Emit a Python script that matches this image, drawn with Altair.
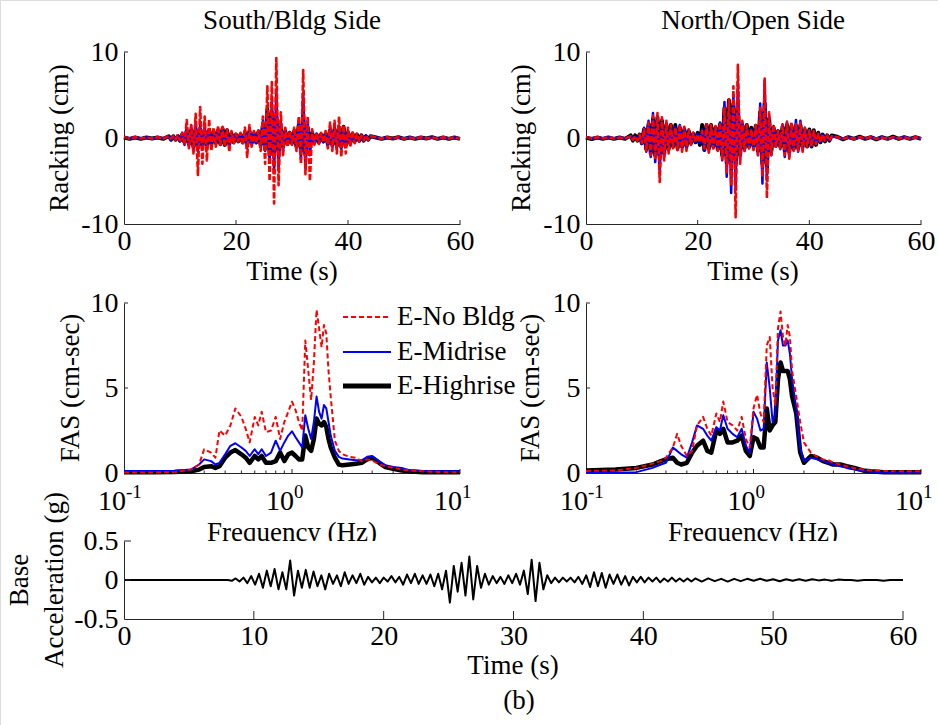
import altair as alt
import pandas as pd

FONT = "Liberation Serif"
W, H = 938, 725
BLACK, BLUE, RED = "#000000", "#0000ff", "#ff0000"
AXIS_GREY = "#262626"
LBL = 28      # tick label size
TTL = 27      # title size

# ---------------- racking time histories (cm) ----------------
RACK_T = [0, 1, 2, 3, 4, 5, 6, 7] + [round(8 + 0.4 * i, 1) for i in range(91)] + list(range(45, 61))

SOUTH_NO_BLDG = (
    [0.1, -0.05, 0.1, -0.05, 0.08, -0.05, 0.1, -0.05]
    + [0.2, -0.1, 0.2, -0.2, 0.3,
       -0.3, 0.6, -0.8, 2.1, -1.2,
       1.5, -1.8, 2.8, -4.3, 3.6,
       -3.0, 2.5, -2.6, 2.2, -1.5,
       1.2, -1.0, 1.4, -0.8, 1.3,
       -1.0, 1.0, -1.6, 0.8, -0.6,
       0.5, -0.4, 0.6, -0.8, 1.2,
       -2.2, 1.5, -1.0, 0.8, -0.6,
       0.9, -1.5, 2.5, -3.0, 6.0,
       -5.0, 6.5, -7.6, 9.3, -5.5,
       3.0, -2.0, 1.2, -1.0, 0.8,
       -0.8, 1.2, -1.5, 2.5, -3.0,
       7.9, -4.2, 2.5, -5.0, 1.0,
       -0.8, 0.6, -0.7, 0.6, -0.5,
       0.8, -1.2, 1.8, -1.5, 2.0,
       -1.8, 2.5, -2.2, 1.5, -1.8,
       1.2, -1.0, 0.8, -0.6, 0.5,
       -0.4, 0.3, -0.3, 0.3, -0.2, 0.2]
    + [0.1, -0.08, 0.1, -0.05, 0.1, -0.08, 0.05, -0.1, 0.1, -0.05, 0.1, -0.08, 0.1, -0.05, 0.1, -0.05]
)
SOUTH_MIDRISE = (
    [0.08, -0.05, 0.08, -0.05, 0.05, -0.05, 0.08, -0.05]
    + [0.2, -0.2, 0.2, -0.2, 0.3,
       -0.4, 0.6, -0.8, 1.2, -1.0,
       1.4, -1.5, 1.8, -1.6, 1.5,
       -1.2, 1.4, -1.0, 1.0, -0.8,
       0.8, -0.6, 1.0, -0.8, 1.0,
       -0.8, 0.8, -0.9, 0.6, -0.5,
       0.4, -0.4, 0.5, -0.6, 0.9,
       -1.2, 1.0, -0.8, 0.7, -0.6,
       0.8, -1.0, 2.0, -1.5, 3.2,
       -2.5, 4.5, -4.0, 5.5, -3.5,
       2.0, -1.5, 1.0, -0.8, 0.7,
       -0.7, 1.0, -1.2, 2.0, -2.5,
       5.3, -3.5, 2.0, -2.0, 0.8,
       -0.6, 0.5, -0.6, 0.5, -0.5,
       0.6, -0.9, 1.2, -1.0, 1.3,
       -1.2, 1.4, -1.3, 1.0, -1.0,
       0.9, -0.8, 0.6, -0.5, 0.4,
       -0.4, 0.3, -0.3, 0.3, -0.2, 0.2]
    + [0.08, -0.05, 0.08, -0.08, 0.05, -0.05, 0.08, -0.05, 0.08, -0.05, 0.05, -0.08, 0.08, -0.05, 0.05, -0.05]
)
SOUTH_HIGHRISE = (
    [0.05, -0.1, 0.05, -0.1, 0.05, -0.05, 0.05, -0.1]
    + [0.2, -0.2, 0.2, -0.2, 0.2,
       -0.3, 0.4, -0.5, 0.8, -0.7,
       0.9, -1.0, 1.0, -1.1, 1.0,
       -0.9, 0.8, -0.8, 0.9, -0.7,
       0.7, -0.6, 0.9, -0.7, 1.1,
       -0.8, 0.9, -0.7, 0.5, -0.5,
       0.4, -0.4, 0.4, -0.5, 0.6,
       -0.7, 0.8, -0.6, 0.5, -0.5,
       0.7, -0.8, 1.5, -1.2, 3.3,
       -2.0, 3.0, -2.2, 2.5, -1.5,
       1.2, -1.0, 0.8, -0.7, 0.6,
       -0.6, 0.8, -1.0, 1.5, -1.5,
       2.5, -2.0, 1.2, -1.0, 0.6,
       -0.5, 0.4, -0.5, 0.4, -0.4,
       0.5, -0.7, 0.9, -0.8, 1.0,
       -0.9, 1.2, -1.0, 1.3, -0.8,
       0.6, -0.6, 0.5, -0.4, 0.4,
       -0.3, 0.3, -0.3, 0.2, -0.2, 0.2]
    + [0.05, -0.1, 0.05, -0.05, 0.1, -0.1, 0.05, -0.1, 0.05, -0.05, 0.1, -0.1, 0.05, -0.1, 0.05, -0.1]
)
NORTH_NO_BLDG = (
    [0.1, -0.05, 0.1, -0.05, 0.1, -0.05, 0.05, -0.05]
    + [0.2, -0.2, 0.2, -0.3, 0.4,
       -0.6, 1.0, -1.5, 1.8, -2.0,
       2.6, -2.5, 2.9, -5.1, 2.4,
       -2.6, 2.0, -1.8, 1.5, -1.2,
       1.2, -1.4, 1.6, -1.6, 1.3,
       -1.5, 1.0, -0.8, 0.6, -0.5,
       0.4, -0.5, 0.8, -1.2, 1.6,
       -1.7, 1.5, -1.2, 1.4, -1.5,
       1.8, -2.5, 3.5, -4.0, 4.5,
       -5.5, 6.0, -9.2, 8.5, -3.0,
       2.0, -1.5, 1.5, -1.2, 1.0,
       -1.4, 1.5, -2.0, 3.5, -4.5,
       6.9, -7.0, 3.0, -2.0, 1.5,
       -1.0, 0.8, -1.2, 1.5, -2.0,
       1.9, -2.4, 1.8, -1.5, 1.6,
       -1.5, 1.8, -1.6, 1.2, -1.0,
       0.9, -1.0, 0.8, -0.7, 0.5,
       -0.5, 0.4, -0.3, 0.3, -0.3, 0.2]
    + [0.1, -0.1, 0.1, -0.1, 0.1, -0.05, 0.1, -0.1, 0.05, -0.1, 0.1, -0.05, 0.1, -0.1, 0.1, -0.05]
)
NORTH_MIDRISE = (
    [0.08, -0.05, 0.08, -0.05, 0.08, -0.05, 0.05, -0.05]
    + [0.2, -0.2, 0.2, -0.3, 0.4,
       -0.7, 1.2, -1.6, 2.0, -2.2,
       2.9, -2.8, 2.5, -4.1, 2.2,
       -2.2, 1.8, -1.5, 1.4, -1.0,
       1.3, -1.4, 1.5, -1.3, 1.2,
       -1.2, 0.9, -0.7, 0.6, -0.5,
       0.5, -0.6, 1.0, -1.4, 1.6,
       -1.6, 1.4, -1.2, 1.3, -1.4,
       1.8, -2.6, 4.2, -4.5, 4.4,
       -6.4, 5.0, -6.0, 6.5, -2.5,
       1.8, -1.5, 1.4, -1.2, 1.0,
       -1.3, 1.5, -2.0, 4.0, -5.3,
       6.7, -5.0, 2.5, -2.0, 1.4,
       -1.0, 0.8, -1.3, 1.6, -2.2,
       1.8, -2.2, 1.6, -1.4, 2.1,
       -1.6, 2.0, -1.4, 1.2, -1.0,
       0.9, -1.0, 0.8, -0.7, 0.5,
       -0.5, 0.4, -0.3, 0.3, -0.3, 0.2]
    + [0.08, -0.08, 0.05, -0.08, 0.08, -0.05, 0.08, -0.05, 0.08, -0.08, 0.05, -0.05, 0.08, -0.05, 0.05, -0.05]
)
NORTH_HIGHRISE = (
    [0.05, -0.12, 0.05, -0.1, 0.05, -0.1, 0.05, -0.1]
    + [0.3, -0.3, 0.3, -0.3, 0.4,
       -0.6, 1.0, -1.3, 1.6, -1.8,
       2.2, -2.0, 2.4, -2.2, 2.0,
       -1.8, 1.5, -1.3, 1.5, -1.0,
       1.5, -1.2, 1.2, -1.0, 1.0,
       -1.0, 0.8, -0.6, 0.5, -0.5,
       0.6, -0.8, 1.5, -1.4, 1.5,
       -1.2, 1.5, -1.0, 1.2, -1.3,
       1.6, -2.0, 3.5, -2.9, 4.4,
       -2.5, 4.0, -3.0, 3.5, -2.0,
       1.5, -1.2, 1.5, -1.0, 1.2,
       -1.0, 1.4, -1.5, 3.0, -3.0,
       4.0, -3.5, 2.2, -1.5, 1.2,
       -0.9, 0.8, -1.0, 1.3, -1.5,
       1.5, -1.6, 1.4, -1.3, 1.4,
       -1.2, 1.5, -1.0, 0.9, -1.0,
       1.0, -1.0, 0.9, -0.8, 0.6,
       -0.5, 0.4, -0.4, 0.3, -0.3, 0.3]
    + [0.15, -0.15, 0.1, -0.1, 0.15, -0.1, 0.1, -0.15, 0.1, -0.1, 0.15, -0.1, 0.1, -0.1, 0.1, -0.1]
)

# ---------------- Fourier amplitude spectra (cm-sec) ----------------
FREQ = [0.1, 0.15, 0.2, 0.25, 0.28, 0.3, 0.33, 0.35, 0.37, 0.4,
        0.43, 0.46, 0.5, 0.53, 0.56, 0.6, 0.63, 0.66, 0.7, 0.75,
        0.8, 0.85, 0.9, 0.95, 1.0, 1.05, 1.1, 1.15, 1.2, 1.25,
        1.3, 1.35, 1.4, 1.45, 1.5, 1.55, 1.6, 1.65, 1.7, 1.8,
        1.9, 2.0, 2.2, 2.4, 2.6, 2.8, 3.0, 3.3, 3.6, 4.0,
        4.5, 5.0, 6.0, 7.0, 8.5, 10.0]

FAS_SOUTH_NO_BLDG = [0.03, 0.03, 0.05, 0.2, 0.5, 1.4, 1.2, 0.9, 2.5, 2.2,
                     2.8, 3.8, 3.3, 2.6, 1.8, 3.3, 2.8, 3.6, 2.4, 2.5,
                     3.3, 2.0, 3.0, 3.6, 4.2, 3.7, 3.0, 2.5, 7.8, 6.0,
                     4.3, 6.5, 9.6, 8.5, 7.4, 8.7, 8.2, 6.0, 4.5, 1.9,
                     1.3, 1.1, 0.95, 0.9, 0.7, 0.8, 0.75, 0.5, 0.4, 0.3,
                     0.2, 0.15, 0.1, 0.07, 0.05, 0.05]
FAS_SOUTH_MIDRISE = [0.12, 0.12, 0.13, 0.2, 0.5, 0.8, 0.7, 0.5, 0.6, 1.1,
                     1.6, 1.75, 1.5, 1.3, 1.0, 1.4, 1.1, 1.4, 1.0, 1.2,
                     1.9, 1.3, 1.8, 2.2, 2.45, 2.1, 1.8, 1.5, 3.4, 2.6,
                     2.0, 3.0, 4.5, 3.6, 3.2, 4.0, 3.8, 3.0, 2.2, 1.3,
                     0.95, 0.85, 0.8, 0.75, 0.75, 0.95, 1.0, 0.7, 0.45, 0.35,
                     0.3, 0.15, 0.12, 0.1, 0.1, 0.1]
FAS_SOUTH_HIGHRISE = [0.05, 0.05, 0.06, 0.1, 0.2, 0.35, 0.4, 0.3, 0.4, 0.9,
                      1.2, 1.35, 1.1, 0.9, 0.6, 1.0, 0.8, 1.0, 0.6, 0.6,
                      0.7, 1.2, 0.7, 1.1, 1.2, 1.0, 0.8, 0.8, 2.2, 1.5,
                      1.3, 2.0, 3.2, 2.9, 2.8, 3.0, 2.7, 2.0, 1.5, 0.9,
                      0.5, 0.45, 0.5, 0.55, 0.6, 0.8, 0.9, 0.6, 0.35, 0.25,
                      0.15, 0.1, 0.05, 0.05, 0.05, 0.05]
FAS_NORTH_NO_BLDG = [0.12, 0.15, 0.3, 0.55, 0.7, 0.9, 1.5, 2.3, 1.6, 1.0,
                     1.3, 2.8, 3.3, 2.6, 2.2, 3.5, 3.0, 4.2, 3.0, 2.8,
                     2.5, 3.3, 2.0, 1.5, 3.8, 4.6, 3.5, 3.0, 7.5, 8.0,
                     5.0, 4.0, 8.5, 9.5, 8.0, 7.5, 8.7, 8.0, 6.0, 4.5,
                     3.0, 1.8, 1.2, 0.95, 0.8, 0.75, 0.6, 0.5, 0.4, 0.3,
                     0.2, 0.15, 0.12, 0.1, 0.1, 0.1]
FAS_NORTH_MIDRISE = [0.02, 0.02, 0.05, 0.3, 0.5, 0.6, 1.5, 1.3, 1.1, 0.9,
                     1.8, 2.8, 2.6, 2.2, 1.9, 2.7, 2.5, 3.4, 2.6, 2.3,
                     2.1, 2.6, 1.6, 1.2, 3.6, 3.2, 2.5, 2.6, 6.5, 5.0,
                     3.0, 3.5, 7.8, 8.4, 7.5, 7.5, 7.8, 7.0, 5.5, 3.8,
                     1.5, 0.7, 0.9, 0.8, 0.7, 0.6, 0.5, 0.4, 0.3, 0.2,
                     0.12, 0.08, 0.03, 0.02, 0.02, 0.02]
FAS_NORTH_HIGHRISE = [0.15, 0.2, 0.3, 0.5, 0.7, 0.8, 0.9, 0.6, 0.5, 0.6,
                      1.2, 1.6, 1.9, 1.3, 1.2, 2.5, 2.3, 2.6, 1.8, 1.8,
                      1.9, 2.2, 1.3, 1.0, 2.1, 2.0, 1.5, 1.5, 3.8, 2.5,
                      2.8, 3.0, 5.5, 6.5, 6.0, 6.0, 6.0, 5.5, 4.5, 3.5,
                      1.2, 0.6, 1.0, 0.9, 0.7, 0.6, 0.5, 0.5, 0.4, 0.3,
                      0.15, 0.1, 0.05, 0.05, 0.05, 0.05]

# ---------------- base acceleration (g) ----------------
BASE_T = [0, 7.9] + [round(8 + 0.3 * j, 1) for j in range(121)] + [44.5 + 0.5 * k for k in range(32)]
BASE_ACC = (
    [0.0, 0.0]
    + [0.0, -0.01, 0.02, -0.02, 0.03, -0.04, 0.05, -0.06, 0.08, -0.1,
       0.12, -0.08, 0.14, -0.12, 0.1, -0.12, 0.25, -0.2, 0.12, -0.1,
       0.13, -0.1, 0.11, -0.08, 0.06, -0.12, 0.08, -0.05, 0.06, -0.08,
       0.1, -0.05, 0.06, -0.04, 0.08, -0.06, 0.04, -0.03, 0.03, -0.04,
       0.03, -0.02, 0.05, -0.03, 0.04, -0.06, 0.07, -0.04, 0.08, -0.05,
       0.06, -0.05, 0.07, -0.08, 0.08, -0.12, 0.12, -0.29, 0.18, -0.15,
       0.22, -0.2, 0.3, -0.25, 0.18, -0.1, 0.08, -0.06, 0.05, -0.04,
       0.04, -0.05, 0.06, -0.04, 0.08, -0.06, 0.12, -0.18, 0.26, -0.27,
       0.22, -0.12, 0.06, -0.04, 0.03, -0.03, 0.03, -0.02, 0.03, -0.03,
       0.04, -0.05, 0.06, -0.09, 0.1, -0.08, 0.09, -0.1, 0.07, -0.05,
       0.07, -0.06, 0.05, -0.07, 0.04, -0.03, 0.04, -0.03, 0.03, -0.02,
       0.03, -0.03, 0.02, -0.02, 0.03, -0.02, 0.02, -0.02, 0.02, -0.02, 0.02]
    + [-0.02, 0.02, -0.015, 0.015, -0.02, 0.015, -0.015, 0.015, -0.01, 0.015,
       -0.01, 0.01, -0.015, 0.01, -0.01, 0.01, -0.01, 0.01, -0.005, 0.005,
       -0.01, 0.005, 0.0, 0.0, -0.01, 0.0, 0.0, 0.0, -0.01, 0.0,
       0.0, 0.0]
)

SERIES_NAMES = ["E-No Bldg", "E-Midrise", "E-Highrise"]

# ---------------- panel geometry (pixel ranges of each axes box) ----------------
PANELS = {
    "south": {"x": ([0, 60], [124, 460]), "y": ([-10, 10], [224, 52]), "log": False},
    "north": {"x": ([0, 60], [586, 921]), "y": ([-10, 10], [224, 52]), "log": False},
    "fas_s": {"x": ([0.1, 10], [124, 460]), "y": ([0, 10], [473, 303]), "log": True},
    "fas_n": {"x": ([0.1, 10], [586, 921]), "y": ([0, 10], [473, 303]), "log": True},
    "base": {"x": ([0, 60], [124, 903]), "y": ([-0.5, 0.5], [619, 541]), "log": False},
}


def sx(p):
    d, r = PANELS[p]["x"]
    if PANELS[p]["log"]:
        return alt.Scale(type="log", domain=d, range=r, nice=False)
    return alt.Scale(domain=d, range=r, nice=False, zero=False)


def sy(p):
    d, r = PANELS[p]["y"]
    return alt.Scale(domain=d, range=r, nice=False, zero=False)


def x_axis(p, values, labels=True, z=0):
    ybot = PANELS[p]["y"][1][0]
    return alt.Axis(orient="bottom", offset=ybot - H, values=values, ticks=False, grid=False,
                    title=None, labels=labels, labelFont=FONT, labelFontSize=LBL,
                    labelColor="black", labelPadding=3, labelExpr="toString(datum.value)",
                    labelFlush=False, labelOverlap=False, domainColor=AXIS_GREY, domainWidth=1,
                    zindex=z)


def y_axis(p, values, z=0):
    xleft = PANELS[p]["x"][1][0]
    return alt.Axis(orient="left", offset=-xleft, values=values, ticks=False, grid=False,
                    title=None, labelFont=FONT, labelFontSize=LBL, labelColor="black",
                    labelPadding=6, labelExpr="toString(datum.value)", labelFlush=False,
                    labelOverlap=False, domainColor=AXIS_GREY, domainWidth=1, zindex=z)


def series(p, xv, yv, color, width, dash=None, xaxis=None, yaxis=None):
    df = pd.DataFrame({"x": xv, "y": yv})
    kw = dict(color=color, strokeWidth=width, strokeJoin="round", strokeCap="butt")
    if dash:
        kw["strokeDash"] = dash
    return alt.Chart(df).mark_line(**kw).encode(
        x=alt.X("x:Q", scale=sx(p), axis=xaxis),
        y=alt.Y("y:Q", scale=sy(p), axis=yaxis),
    )


def x_ticks(p, values, length):
    ybot = PANELS[p]["y"][1][0]
    return alt.Chart(pd.DataFrame({"v": values})).mark_rule(color=AXIS_GREY, strokeWidth=1).encode(
        x=alt.X("v:Q", scale=sx(p), axis=None), y=alt.value(ybot), y2=alt.value(ybot - length))


def y_ticks(p, values, length):
    xleft = PANELS[p]["x"][1][0]
    return alt.Chart(pd.DataFrame({"v": values})).mark_rule(color=AXIS_GREY, strokeWidth=1).encode(
        y=alt.Y("v:Q", scale=sy(p), axis=None), x=alt.value(xleft), x2=alt.value(xleft + length))


def text(t, x, y, size=TTL, angle=0, align="center", baseline="middle"):
    return alt.Chart(pd.DataFrame({"t": [t]})).mark_text(
        font=FONT, fontSize=size, angle=angle, align=align, baseline=baseline, color="black"
    ).encode(x=alt.value(x), y=alt.value(y), text="t:N")


layers = []

# ---- racking panels ----
for key, data in (("south", (SOUTH_HIGHRISE, SOUTH_MIDRISE, SOUTH_NO_BLDG)),
                  ("north", (NORTH_HIGHRISE, NORTH_MIDRISE, NORTH_NO_BLDG))):
    high, mid, nob = data
    layers.append(series(key, RACK_T, high, BLACK, 4.0,
                         xaxis=x_axis(key, [0, 20, 40, 60]), yaxis=y_axis(key, [-10, 0, 10])))
    layers.append(series(key, RACK_T, mid, BLUE, 2.5))
    layers.append(series(key, RACK_T, nob, RED, 2.6, dash=[6, 2]))
    layers.append(x_ticks(key, [20, 40, 60], 4))
    layers.append(y_ticks(key, [0, 10], 4))

# ---- spectra panels ----
MAJOR = [0.1, 1, 10]
MINOR = [0.2, 0.3, 0.4, 0.5, 0.6, 0.7, 0.8, 0.9, 2, 3, 4, 5, 6, 7, 8, 9]
for key, data in (("fas_s", (FAS_SOUTH_HIGHRISE, FAS_SOUTH_MIDRISE, FAS_SOUTH_NO_BLDG)),
                  ("fas_n", (FAS_NORTH_HIGHRISE, FAS_NORTH_MIDRISE, FAS_NORTH_NO_BLDG))):
    high, mid, nob = data
    layers.append(series(key, FREQ, high, BLACK, 4.5,
                         xaxis=x_axis(key, MAJOR, labels=False), yaxis=y_axis(key, [0, 5, 10])))
    layers.append(series(key, FREQ, mid, BLUE, 2.0))
    layers.append(series(key, FREQ, nob, RED, 2.0, dash=[5, 3]))
    layers.append(x_ticks(key, MAJOR[1:], 4))
    layers.append(x_ticks(key, MINOR, 2.5))
    layers.append(y_ticks(key, [5, 10], 4))
    # decade labels written as 10 with a raised exponent
    dec = pd.DataFrame({"f": MAJOR, "base": ["10", "10", "10"], "exp": ["-1", "0", "1"]})
    layers.append(alt.Chart(dec).mark_text(font=FONT, fontSize=LBL, align="right", baseline="middle",
                                           dx=2, color="black").encode(
        x=alt.X("f:Q", scale=sx(key), axis=None), y=alt.value(502), text="base:N"))
    layers.append(alt.Chart(dec).mark_text(font=FONT, fontSize=19, align="left", baseline="middle",
                                           dx=2, color="black").encode(
        x=alt.X("f:Q", scale=sx(key), axis=None), y=alt.value(492), text="exp:N"))

# ---- titles and axis captions ----
layers += [
    text("South/Bldg Side", 292, 21),
    text("North/Open Side", 753, 21),
    text("Racking (cm)", 60, 138, angle=270),
    text("Racking (cm)", 522, 138, angle=270),
    text("Time (s)", 292, 272),
    text("Time (s)", 753, 272),
    text("FAS (cm-sec)", 71, 388, angle=270),
    text("FAS (cm-sec)", 531, 388, angle=270),
    text("Frequency (Hz)", 292, 541, baseline="alphabetic"),
    text("Frequency (Hz)", 753, 541, baseline="alphabetic"),
]

# ---- legend ----
LEG_Y = [317, 352, 386]
LEG_STYLE = [(RED, 2.0, [5, 3]), (BLUE, 2.0, None), (BLACK, 5.0, None)]
for name, ly, (col, wid, dash) in zip(SERIES_NAMES, LEG_Y, LEG_STYLE):
    kw = dict(color=col, strokeWidth=wid)
    if dash:
        kw["strokeDash"] = dash
    layers.append(alt.Chart(pd.DataFrame({"n": [name]})).mark_rule(**kw).encode(
        x=alt.value(343), x2=alt.value(391), y=alt.value(ly)))
    layers.append(text(name, 397, ly, align="left"))

# ---- base acceleration panel (opaque box drawn over the spectra captions) ----
layers.append(alt.Chart(pd.DataFrame({"x": [0], "x2": [60], "y": [-0.5], "y2": [0.5]})).mark_rect(
    color="white").encode(x=alt.X("x:Q", scale=sx("base"), axis=None), x2="x2:Q",
                          y=alt.Y("y:Q", scale=sy("base"), axis=None), y2="y2:Q"))
layers.append(series("base", BASE_T, BASE_ACC, BLACK, 2.0,
                     xaxis=x_axis("base", [0, 10, 20, 30, 40, 50, 60], z=1),
                     yaxis=y_axis("base", [-0.5, 0, 0.5], z=1)))
layers.append(x_ticks("base", [10, 20, 30, 40, 50, 60], 8))
layers.append(y_ticks("base", [0, 0.5], 7))
layers += [
    text("Base", 20, 580, angle=270),
    text("Acceleration (g)", 55, 580, angle=270),
    text("Time (s)", 513, 666),
    text("(b)", 519, 701),
]

chart = (
    alt.layer(*layers)
    .resolve_scale(x="independent", y="independent")
    .resolve_axis(x="independent", y="independent")
    .properties(width=W, height=H, padding=0, autosize=alt.AutoSizeParams(type="none"))
    .configure_view(stroke=None)
    .configure(background="white")
)

chart.save("out.html", embed_options={"renderer": "svg", "actions": False})
